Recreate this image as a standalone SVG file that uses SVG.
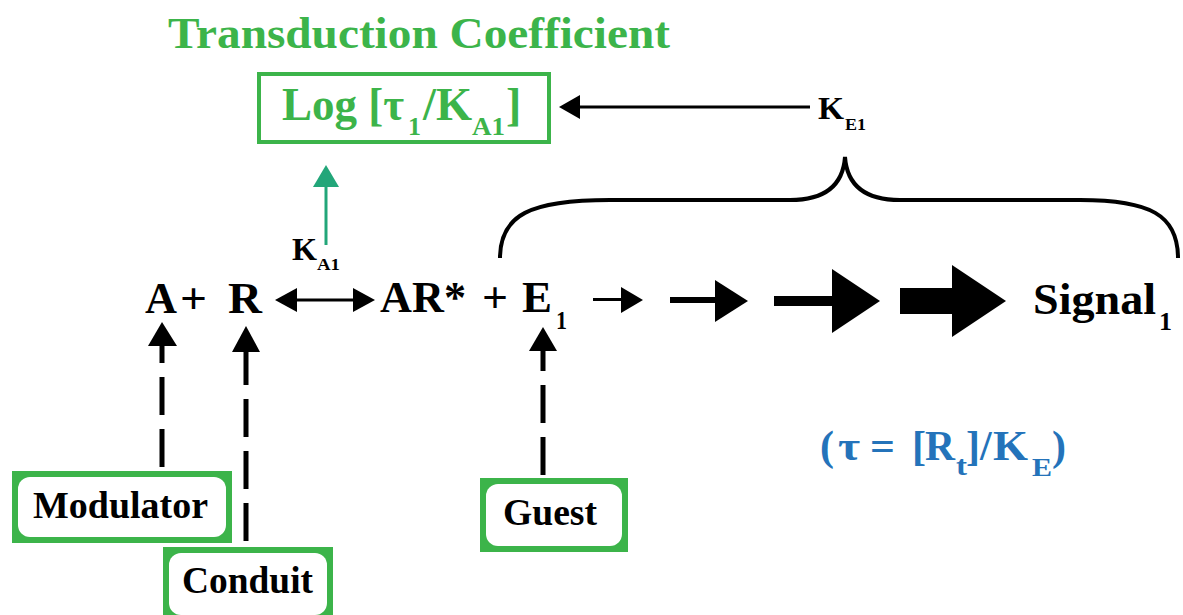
<svg xmlns="http://www.w3.org/2000/svg" width="1183" height="615" viewBox="0 0 1183 615" font-family="Liberation Serif, Times New Roman, serif" font-weight="bold">
<style>
.blk{fill:#000;}
.grn{fill:#3cb44a;}
.blu{fill:#2473ba;}
.dash{stroke:#000;stroke-width:5;fill:none;stroke-dasharray:38 14;}
.frame{fill:#3cb44a;}
.inner{fill:#fff;}
</style>
<rect width="1183" height="615" fill="#fff"/>

<g id="title">
<text x="168" y="48" font-size="45" class="grn" textLength="502" lengthAdjust="spacingAndGlyphs">Transduction Coefficient</text>
</g>

<g id="logbox">
<rect x="259" y="74" width="290" height="68" fill="none" stroke="#3cb44a" stroke-width="4"/>
<text y="120" font-size="46" class="grn"><tspan x="282" textLength="122" lengthAdjust="spacingAndGlyphs">Log [τ</tspan><tspan x="408" y="135" font-size="26" textLength="13" lengthAdjust="spacingAndGlyphs">1</tspan><tspan x="423" y="120" textLength="49" lengthAdjust="spacingAndGlyphs">/K</tspan><tspan x="472" y="135" font-size="26" textLength="33" lengthAdjust="spacingAndGlyphs">A1</tspan><tspan x="506" y="120">]</tspan></text>
</g>

<g id="ke1">
<text y="119" font-size="32" class="blk"><tspan x="818" textLength="26" lengthAdjust="spacingAndGlyphs">K</tspan><tspan x="845" y="130" font-size="17" textLength="21" lengthAdjust="spacingAndGlyphs">E1</tspan></text>
</g>

<g id="ka1">
<text y="260" font-size="32" class="blk"><tspan x="292" textLength="25" lengthAdjust="spacingAndGlyphs">K</tspan><tspan x="317" y="270" font-size="17" textLength="23" lengthAdjust="spacingAndGlyphs">A1</tspan></text>
</g>

<g id="a-plus-r">
<text y="313" font-size="44" class="blk"><tspan x="145" textLength="32" lengthAdjust="spacingAndGlyphs">A</tspan><tspan x="180" textLength="27" lengthAdjust="spacingAndGlyphs">+</tspan><tspan x="228" textLength="34" lengthAdjust="spacingAndGlyphs">R</tspan></text>
</g>

<g id="ar-plus-e1">
<text y="312" font-size="44" class="blk"><tspan x="380" textLength="86" lengthAdjust="spacingAndGlyphs">AR*</tspan><tspan x="482" textLength="26" lengthAdjust="spacingAndGlyphs">+</tspan><tspan x="522" textLength="30" lengthAdjust="spacingAndGlyphs">E</tspan><tspan x="556" y="329" font-size="26" textLength="11" lengthAdjust="spacingAndGlyphs">1</tspan></text>
</g>

<g id="signal">
<text y="314" font-size="45" class="blk"><tspan x="1033" textLength="123" lengthAdjust="spacingAndGlyphs">Signal</tspan><tspan x="1159" y="330" font-size="26" textLength="13" lengthAdjust="spacingAndGlyphs">1</tspan></text>
</g>

<g id="formula">
<text y="460" font-size="42" class="blu"><tspan x="820">(</tspan><tspan x="838" textLength="22" lengthAdjust="spacingAndGlyphs">τ</tspan><tspan x="870" textLength="25" lengthAdjust="spacingAndGlyphs">=</tspan><tspan x="912">[</tspan><tspan x="925" textLength="30" lengthAdjust="spacingAndGlyphs">R</tspan><tspan x="956" y="475" font-size="27" textLength="11" lengthAdjust="spacingAndGlyphs">t</tspan><tspan x="966" y="460">]</tspan><tspan x="980">/</tspan><tspan x="993" textLength="35" lengthAdjust="spacingAndGlyphs">K</tspan><tspan x="1032" y="476" font-size="26" textLength="20" lengthAdjust="spacingAndGlyphs">E</tspan><tspan x="1052" y="460">)</tspan></text>
</g>

<g id="modulator">
<rect class="frame" x="12" y="471" width="220" height="72"/>
<rect class="inner" x="18" y="477" width="208" height="60" rx="12"/>
<text x="33" y="518" font-size="37" class="blk" textLength="175" lengthAdjust="spacingAndGlyphs">Modulator</text>
</g>

<g id="conduit">
<rect class="frame" x="163" y="547" width="170" height="75"/>
<rect class="inner" x="169" y="553" width="158" height="62" rx="12"/>
<text x="182" y="593" font-size="37" class="blk" textLength="131" lengthAdjust="spacingAndGlyphs">Conduit</text>
</g>

<g id="guest">
<rect class="frame" x="480" y="478" width="148" height="74"/>
<rect class="inner" x="486" y="484" width="136" height="62" rx="12"/>
<text x="503" y="525" font-size="37" class="blk" textLength="94" lengthAdjust="spacingAndGlyphs">Guest</text>
</g>

<g id="connectors">
<line x1="810" y1="107" x2="578" y2="107" stroke="#000" stroke-width="3"/>
<polygon points="559,107 580,95 580,119" fill="#000"/>
<line x1="326" y1="245" x2="326" y2="185" stroke="#22a679" stroke-width="3"/>
<polygon points="326,165 313,187 339,187" fill="#22a679"/>
<path d="M500,258 C500,215 530,200 610,200 L790,200 C825,200 843,185 845,157 C847,185 865,200 900,200 L1080,200 C1150,200 1178,215 1178,258" fill="none" stroke="#000" stroke-width="4"/>
<line x1="290" y1="300" x2="360" y2="300" stroke="#000" stroke-width="3"/>
<polygon points="275,300 297,288 297,312" fill="#000"/>
<polygon points="375,300 353,288 353,312" fill="#000"/>
<rect x="593" y="298" width="30" height="3" fill="#000"/>
<polygon points="621,287 643,300 621,313" fill="#000"/>
<rect x="670" y="297" width="47" height="6" fill="#000"/>
<polygon points="715,280 748,301 715,322" fill="#000"/>
<rect x="774" y="296" width="60" height="10" fill="#000"/>
<polygon points="832,269 880,301 832,333" fill="#000"/>
<rect x="900" y="288" width="54" height="26" fill="#000"/>
<polygon points="952,265 1006,301 952,337" fill="#000"/>
<line class="dash" x1="162" y1="343" x2="162" y2="471" stroke-dashoffset="18"/>
<polygon points="162,322 148,346 177,346" fill="#000"/>
<line class="dash" x1="246" y1="350" x2="246" y2="547" stroke-dashoffset="3"/>
<polygon points="246,326 232,352 260,352" fill="#000"/>
<line class="dash" x1="543" y1="349" x2="543" y2="478" stroke-dashoffset="16"/>
<polygon points="543,327 529,351 557,351" fill="#000"/>
</g>
</svg>
